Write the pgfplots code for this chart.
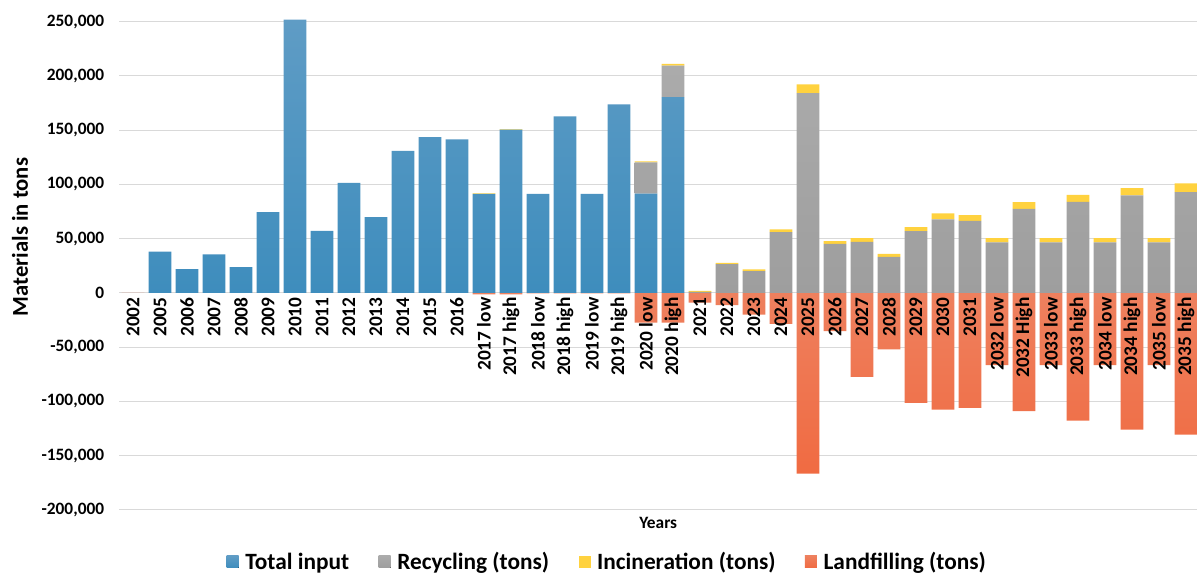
\documentclass[border=0pt]{standalone}
\usepackage{pgfplots}
\pgfplotsset{compat=1.18}
\usepackage{pgfplotstable}
\usepackage{fontspec}
\setmainfont{Carlito}

\definecolor{bluetop}{HTML}{5F9CC5}
\definecolor{bluebot}{HTML}{3E8DBD}
\definecolor{greytop}{HTML}{ABABAB}
\definecolor{greybot}{HTML}{9E9E9E}
\definecolor{incol}{HTML}{FFD23F}
\definecolor{landtop}{HTML}{EE805E}
\definecolor{landbot}{HTML}{F06B42}
\definecolor{gridcol}{HTML}{D9D9D9}

% x: category index; total input, recycling, incineration, landfilling (tons)
\pgfplotstableread{
x total rec inc land
0 0 0 0 0
1 38000 0 0 0
2 22000 0 0 0
3 35500 0 0 0
4 23700 0 0 0
5 74500 0 0 0
6 252000 0 0 0
7 57200 0 0 0
8 101500 0 0 0
9 69800 0 0 0
10 131000 0 0 0
11 143600 0 0 0
12 141500 0 0 0
13 91300 0 500 -1500
14 150500 0 500 -1500
15 91300 0 0 -500
16 162700 0 0 -500
17 91300 0 0 -500
18 173800 0 0 -500
19 91500 28800 1000 -27500
20 180500 29000 1500 -27500
21 0 1000 800 -9000
22 0 26400 1300 -11300
23 0 20000 1600 -20000
24 0 56000 2500 -28600
25 0 184200 8000 -166600
26 0 45200 2500 -35300
27 0 47000 3500 -77500
28 0 33200 2800 -52200
29 0 56900 3700 -101500
30 0 67700 5500 -107600
31 0 66400 5300 -106100
32 0 46500 4000 -66700
33 0 77500 6200 -109100
34 0 46500 4000 -66700
35 0 84000 6400 -117700
36 0 46500 4000 -66700
37 0 89800 6800 -126000
38 0 46500 4000 -66700
39 0 92900 8000 -130600
}\data

\pgfplotsset{
  common/.style={
    scale only axis, width=808pt, height=382.3pt,
    xmin=-0.5, xmax=39.41, ymin=-200000, ymax=270000,
    bar width=17pt,
  },
}

\begin{document}
\begin{tikzpicture}
% grid and landfilling (drawn below)
\begin{axis}[
    common, name=main, at={(0,0)}, anchor=south west,
    ybar, bar shift=0pt,
    axis line style={draw=none}, major tick length=0pt,
    ytick={-200000,-150000,...,250000}, xtick=\empty,
    yticklabels={}, ymajorgrids, grid style={gridcol, line width=0.8pt},
]
\addplot[draw=none, top color=landtop, bottom color=landbot] table[x=x, y=land] {\data};
\end{axis}
% stacked inputs, ticks, labels, legend
\begin{axis}[
    common, at={(main.south west)}, anchor=south west,
    ybar stacked,
    axis x line*=middle, axis y line*=left,
    axis line style={draw=none},
    major tick length=0pt,
    hide obscured x ticks=false, hide obscured y ticks=false,
    ytick={-200000,-150000,...,250000},
    xtick={0,...,39},
    xticklabels={2002,2005,2006,2007,2008,2009,2010,2011,2012,2013,2014,2015,2016,
        {2017 low},{2017 high},{2018 low},{2018 high},{2019 low},{2019 high},
        {2020 low},{2020 high},2021,2022,2023,2024,2025,2026,2027,2028,2029,2030,2031,
        {2032 low},{2032 High},{2033 low},{2033 high},{2034 low},{2034 high},
        {2035 low},{2035 high}},
    yticklabel style={font=\bfseries\fontsize{13}{15}\selectfont, xshift=-8pt},
    xticklabel style={font=\bfseries\fontsize{14.5}{16}\selectfont, rotate=90, anchor=east},
    scaled y ticks=false,
    /pgf/number format/.cd, fixed, 1000 sep={,}, assume math mode=true, /pgfplots/.cd,
    clip=false,
    legend columns=4,
    legend style={at={(axis description cs:0.453,-0.102)}, anchor=center,
        draw=none, fill=none, font=\bfseries\fontsize{17.5}{19}\selectfont,
        /tikz/every odd column/.append style={column sep=3pt},
        /tikz/every even column/.append style={column sep=20pt}},
    legend image code/.code={\fill[#1, draw=none] (0pt,-4.5pt) rectangle (9pt,4.5pt);},
]
\addplot[draw=none, top color=bluetop, bottom color=bluebot] table[x=x, y=total] {\data};
\addlegendentry{Total input}
\addplot[draw=none, top color=greytop, bottom color=greybot] table[x=x, y=rec] {\data};
\addlegendentry{Recycling (tons)}
\addplot[draw=none, fill=incol] table[x=x, y=inc] {\data};
\addlegendentry{Incineration (tons)}
\addlegendimage{draw=none, top color=landtop, bottom color=landbot}
\addlegendentry{Landfilling (tons)}
\node[font=\bfseries\fontsize{13}{15}\selectfont] at (axis description cs:0.5,-0.0255) {Years};
\node[rotate=90, font=\bfseries\fontsize{17}{19}\selectfont] at (axis description cs:-0.0923,0.535) {Materials in tons};
\end{axis}
\pgfresetboundingbox
\path[use as bounding box] ([shift={(-89.6pt,-48pt)}]main.south west) rectangle (main.north east);
\end{tikzpicture}
\end{document}
